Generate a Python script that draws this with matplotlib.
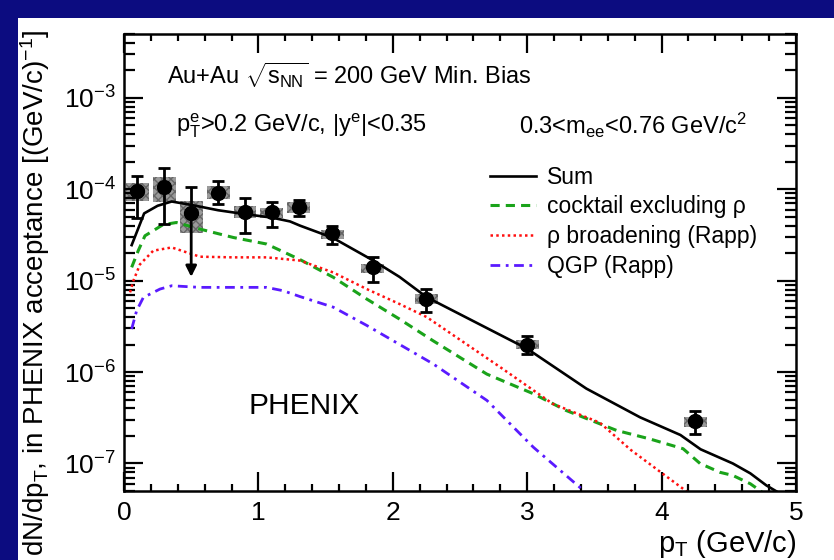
import matplotlib
matplotlib.use("Agg")
import matplotlib.pyplot as plt
from matplotlib.patches import Rectangle
from matplotlib.ticker import LogLocator, MultipleLocator, LogFormatterSciNotation

plt.rcParams["font.family"] = ["Liberation Sans", "DejaVu Sans"]
plt.rcParams["mathtext.fontset"] = "custom"
plt.rcParams["mathtext.rm"] = "Liberation Sans"
plt.rcParams["mathtext.it"] = "Liberation Sans"
plt.rcParams["mathtext.sf"] = "Liberation Sans"
plt.rcParams["mathtext.bf"] = "Liberation Sans:bold"

# measured pT spectrum, 0.3 < mee < 0.76 GeV/c^2
pt_data = [0.1, 0.3, 0.5, 0.7, 0.9, 1.1, 1.3, 1.55, 1.85, 2.25, 3.0, 4.25]
y_data = [9.5e-5, 1.06e-4, 5.45e-5, 9.2e-5, 5.7e-5, 5.6e-5, 6.35e-5, 3.3e-5, 1.4e-5, 6.3e-6, 2.0e-6, 2.9e-7]
stat_hi = [1.41e-4, 1.7e-4, 1.06e-4, 1.24e-4, 8.1e-5, 7.2e-5, 7.6e-5, 4.0e-5, 1.83e-5, 8.1e-6, 2.47e-6, 3.73e-7]
stat_lo = [4.9e-5, 4.2e-5, 1.1e-5, 6.9e-5, 3.3e-5, 3.9e-5, 5.1e-5, 2.5e-5, 9.6e-6, 4.6e-6, 1.58e-6, 2.1e-7]
sys_hi = [1.17e-4, 1.37e-4, 7.4e-5, 1.1e-4, 6.5e-5, 6.3e-5, 7.2e-5, 3.55e-5, 1.51e-5, 7.1e-6, 2.24e-6, 3.24e-7]
sys_lo = [7.4e-5, 7.2e-5, 3.3e-5, 7.9e-5, 4.9e-5, 4.9e-5, 5.5e-5, 2.85e-5, 1.2e-5, 5.6e-6, 1.78e-6, 2.5e-7]
arrow_pts = [2]  # points whose lower error runs off as an arrow

# model curves
pt_sum = [0.057, 0.15, 0.25, 0.355, 0.5, 0.7, 0.9, 1.1, 1.235, 1.31, 1.553, 1.855, 2.05, 2.252,
          3.0, 3.44, 3.84, 4.14, 4.29, 4.53, 4.66, 4.78, 4.86]
y_sum = [2.45e-5, 5.45e-5, 6.6e-5, 7.35e-5, 6.75e-5, 5.9e-5, 5.35e-5, 4.9e-5, 4.45e-5, 4.0e-5, 2.95e-5,
         1.66e-5, 1.1e-5, 6.6e-6, 1.8e-6, 6.6e-7, 3.2e-7, 2.05e-7, 1.43e-7, 1.0e-7, 7.8e-8, 5.75e-8, 4.9e-8]

pt_cocktail = [0.057, 0.106, 0.156, 0.29, 0.39, 0.565, 0.813, 1.06, 1.31, 1.557, 1.806, 2.05, 2.30, 2.70,
               3.045, 3.29, 3.665, 3.91, 4.16, 4.286, 4.435, 4.53, 4.66, 4.745]
y_cocktail = [1.4e-5, 2.13e-5, 3.1e-5, 4.1e-5, 4.33e-5, 3.67e-5, 2.97e-5, 2.52e-5, 1.7e-5, 1.09e-5, 6.3e-6,
              3.8e-6, 2.2e-6, 9.5e-7, 5.8e-7, 3.8e-7, 2.3e-7, 1.86e-7, 1.45e-7, 1.0e-7, 8.0e-8, 7.4e-8, 6.0e-8, 4.9e-8]

pt_rho = [0.045, 0.07, 0.119, 0.218, 0.355, 0.565, 0.813, 1.06, 1.31, 1.557, 1.806, 2.05, 2.252, 2.80,
          3.19, 3.54, 3.77, 4.0, 4.19]
y_rho = [7.45e-6, 1.0e-5, 1.51e-5, 2.13e-5, 2.31e-5, 1.83e-5, 1.8e-5, 1.8e-5, 1.66e-5, 1.23e-5, 8.1e-6,
         5.56e-6, 4.0e-6, 1.13e-6, 4.5e-7, 2.8e-7, 1.41e-7, 7.9e-8, 4.9e-8]

pt_qgp = [0.057, 0.094, 0.144, 0.268, 0.355, 0.565, 0.813, 1.06, 1.185, 1.31, 1.557, 1.806, 2.30, 2.70,
          3.045, 3.43]
y_qgp = [2.96e-6, 4.7e-6, 6.56e-6, 8.1e-6, 8.8e-6, 8.45e-6, 8.45e-6, 8.45e-6, 7.76e-6, 6.7e-6, 5.13e-6,
         3.24e-6, 1.23e-6, 4.9e-7, 1.51e-7, 4.9e-8]

fig = plt.figure(figsize=(8.34, 5.6), dpi=100, facecolor="#0c0c80")
# white slide area behind the plot
bg = fig.add_axes([18 / 834, 0, 1 - 18 / 834, 1 - 18 / 560], zorder=-1)
bg.set_axis_off()
bg.add_patch(Rectangle((0, 0), 1, 1, transform=bg.transAxes, facecolor="white", edgecolor="none"))

ax = fig.add_axes([124 / 834, 1 - 491 / 560, 672 / 834, 457 / 560])
ax.set_yscale("log")
ax.set_xlim(0, 5)
ax.set_ylim(5e-8, 5e-3)

# systematic boxes
box_hw = 0.085
for x, lo, hi in zip(pt_data, sys_lo, sys_hi):
    ax.add_patch(Rectangle((x - box_hw, lo), 2 * box_hw, hi - lo, facecolor="#9a9a9a",
                           edgecolor="#666666", hatch="xxxx", linewidth=0, zorder=1))

ax.plot(pt_sum, y_sum, color="black", lw=1.9, label="Sum", zorder=2)
ax.plot(pt_cocktail, y_cocktail, color="#1aa31a", lw=2.2, dashes=(3, 2), label="cocktail excluding ρ", zorder=2)
ax.plot(pt_rho, y_rho, color="#ff1010", lw=1.8, dashes=(1, 1.3), label="ρ broadening (Rapp)", zorder=2)
ax.plot(pt_qgp, y_qgp, color="#5a1aff", lw=2.0, dashes=(3.5, 2, 1, 2), label="QGP (Rapp)", zorder=2)

err_lo = [0 if i in arrow_pts else y - lo for i, (y, lo) in enumerate(zip(y_data, stat_lo))]
err_hi = [hi - y for y, hi in zip(y_data, stat_hi)]
ax.errorbar(pt_data, y_data, yerr=[err_lo, err_hi], fmt="o", color="black", ms=10,
            elinewidth=2, capsize=4, capthick=2, zorder=3)
for i in arrow_pts:
    ax.annotate("", xy=(pt_data[i], stat_lo[i]), xytext=(pt_data[i], y_data[i]),
                arrowprops=dict(arrowstyle="-|>", color="black", lw=2, mutation_scale=16,
                                shrinkA=0, shrinkB=0), zorder=3)

# ROOT style axes
for sp in ax.spines.values():
    sp.set_linewidth(1.8)
ax.xaxis.set_major_locator(MultipleLocator(1))
ax.xaxis.set_minor_locator(MultipleLocator(0.2))
ax.yaxis.set_major_locator(LogLocator(base=10, numticks=20))
ax.yaxis.set_minor_locator(LogLocator(base=10, subs=range(2, 10), numticks=20))
ax.yaxis.set_major_formatter(LogFormatterSciNotation())
ax.yaxis.set_minor_formatter(plt.NullFormatter())
ax.tick_params(which="both", direction="in", top=True, right=True, width=1.6, labelsize=19)
ax.tick_params(which="major", length=14)
ax.tick_params(axis="x", which="minor", length=5)
ax.tick_params(axis="y", which="minor", length=8)
ax.tick_params(axis="x", pad=7)
ax.tick_params(axis="y", pad=6)

ax.set_xlabel(r"p$_{\mathregular{T}}$ (GeV/c)", fontsize=21, loc="right")
ax.xaxis.set_label_coords(1.0, -0.08)
ax.set_ylabel(r"dN/dp$_{\mathregular{T}}$, in PHENIX acceptance [(GeV/c)$^{-1}$]", fontsize=20, loc="top")
ax.yaxis.set_label_coords(-0.107, 1.01)

ax.text(0.064, 0.91, r"Au+Au $\sqrt{s_{\mathregular{NN}}}$ = 200 GeV Min. Bias", transform=ax.transAxes,
        fontsize=17, va="center")
ax.text(0.078, 0.80, r"p$_{\mathregular{T}}^{\mathregular{e}}$>0.2 GeV/c, |y$^{\mathregular{e}}$|<0.35",
        transform=ax.transAxes, fontsize=17, va="center")
ax.text(0.927, 0.80, r"0.3<m$_{\mathregular{ee}}$<0.76 GeV/c$^{2}$", transform=ax.transAxes,
        fontsize=17, va="center", ha="right")
ax.text(0.185, 0.186, "PHENIX", transform=ax.transAxes, fontsize=21.5, va="center")

ax.legend(loc="upper left", bbox_to_anchor=(0.545, 0.712), frameon=False, fontsize=16.5,
          handlelength=2.0, handletextpad=0.47, labelspacing=0.3, borderaxespad=0, borderpad=0)

fig.savefig("out.png", dpi=100, facecolor=fig.get_facecolor())
